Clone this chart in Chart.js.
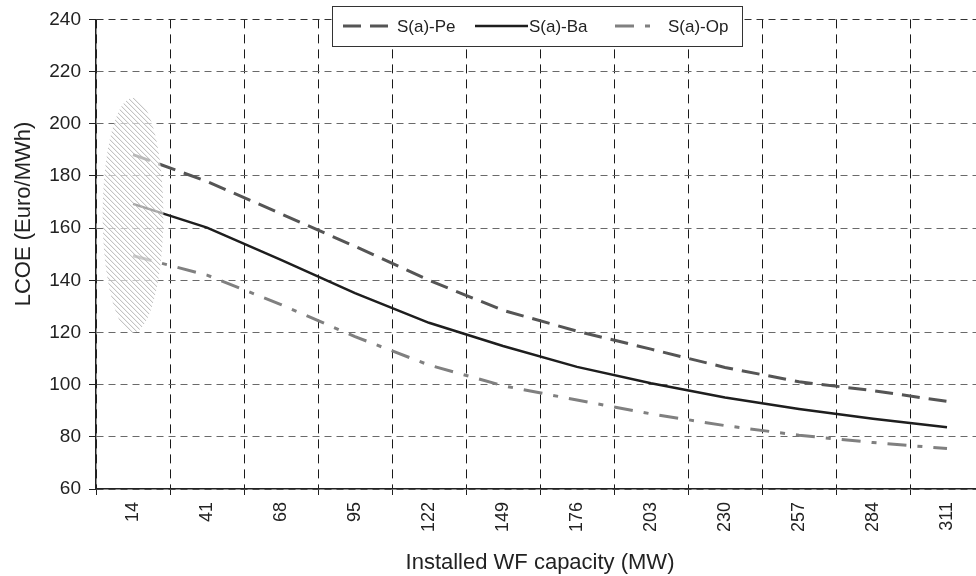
<!DOCTYPE html>
<html>
<head>
<meta charset="utf-8">
<script src="https://cdn.jsdelivr.net/npm/chart.js@4.4.0/dist/chart.umd.min.js"></script>
<style>
  html, body { margin: 0; padding: 0; background: #fff; overflow: hidden; }
  canvas { display: block; }
</style>
</head>
<body>
<canvas id="lcoeChart" width="1000" height="576"></canvas>
<script>
// installed wind farm capacity (MW)
const capacities = ['14', '41', '68', '95', '122', '149', '176', '203', '230', '257', '284', '311'];

// LCOE in Euro/MWh per scenario
const pessimistic = [188.2, 177.9, 165.5, 153.0, 140.0, 128.5, 120.5, 113.6, 106.6, 101.1, 97.7, 93.6];
const baseline    = [169.3, 160.2, 147.8, 135.1, 123.7, 114.8, 106.8, 100.5, 95.1, 90.7, 86.9, 83.7];
const optimistic  = [149.4, 142.0, 130.7, 118.4, 107.5, 99.6, 94.1, 88.8, 84.3, 80.6, 77.8, 75.5];

const seriesNames = ['S(a)-Pe', 'S(a)-Ba', 'S(a)-Op'];

// y axis ticks
const yMin = 60;
const yMax = 240;
const yStep = 20;

// hatched spread at the smallest capacity (low, high)
const spreadRange = [120, 210];

const FONT = 'Liberation Sans, Arial, Helvetica, sans-serif';
const INK = '#222';

//#####################
// Hatched ellipse
//#####################
const hatchEllipse = {
    id: 'hatchEllipse',
    afterDatasetsDraw(chart) {
        const {ctx, scales: {x, y}} = chart;
        const cx = x.getPixelForValue(0);
        const top = y.getPixelForValue(spreadRange[1]);
        const bottom = y.getPixelForValue(spreadRange[0]);
        const cy = (top + bottom) / 2;
        const ry = (bottom - top) / 2;
        const rx = (x.getPixelForValue(1) - cx) * 0.41;
        const h = bottom - top;
        ctx.save();
        ctx.beginPath();
        ctx.ellipse(cx, cy, rx, ry, 0, 0, Math.PI * 2);
        ctx.fillStyle = 'rgba(255,255,255,0.6)';
        ctx.fill();
        ctx.clip();
        ctx.strokeStyle = '#b4b4b4';
        ctx.lineWidth = 1;
        ctx.beginPath();
        for (let sx = cx - rx - h; sx < cx + rx; sx += 5) {
            ctx.moveTo(sx, top);
            ctx.lineTo(sx + h, bottom);
        }
        ctx.stroke();
        ctx.restore();
    }
};

//#####################
// Boxed legend + y title
//#####################
const boxLegend = {
    id: 'boxLegend',
    afterDraw(chart, args, opts) {
        const {ctx} = chart;
        ctx.save();
        ctx.fillStyle = '#fff';
        ctx.fillRect(opts.left, opts.top, opts.width, opts.height);
        ctx.strokeStyle = '#333';
        ctx.lineWidth = 1;
        ctx.strokeRect(opts.left + 0.5, opts.top + 0.5, opts.width, opts.height);

        const mid = opts.top + opts.height / 2;
        ctx.font = '17px ' + FONT;
        ctx.textBaseline = 'middle';
        chart.data.datasets.forEach((ds, i) => {
            const [x0, len, tx] = opts.items[i];
            ctx.strokeStyle = ds.borderColor;
            ctx.lineWidth = ds.borderWidth;
            ctx.setLineDash(ds.borderDash || []);
            ctx.beginPath();
            ctx.moveTo(x0, mid);
            ctx.lineTo(x0 + len, mid);
            ctx.stroke();
            ctx.setLineDash([]);
            ctx.fillStyle = INK;
            ctx.fillText(ds.label, tx, mid + 1);
        });

        // y axis title, placed like the original
        ctx.translate(opts.yTitleX, opts.yTitleY);
        ctx.rotate(-Math.PI / 2);
        ctx.font = '22px ' + FONT;
        ctx.textAlign = 'center';
        ctx.fillStyle = INK;
        ctx.fillText('LCOE (Euro/MWh)', 0, 0);
        ctx.restore();
    }
};

const data = {
    labels: capacities,
    datasets: [
        {
            label: seriesNames[0],
            data: pessimistic,
            borderColor: '#555555',
            borderWidth: 3,
            borderDash: [18, 9]
        },
        {
            label: seriesNames[1],
            data: baseline,
            borderColor: '#1e1e1e',
            borderWidth: 2.5
        },
        {
            label: seriesNames[2],
            data: optimistic,
            borderColor: '#808080',
            borderWidth: 3,
            borderDash: [19, 11, 5, 11]
        }
    ]
};

const chartCanvas = document.getElementById('lcoeChart');

const myChart = new Chart(chartCanvas, {
    type: 'line',
    data: data,
    plugins: [hatchEllipse, boxLegend],
    options: {
        responsive: false,
        animation: false,
        devicePixelRatio: 1,
        layout: { padding: { top: 16, right: 16, left: 0, bottom: 0 } },
        elements: {
            point: { radius: 0, hoverRadius: 0 },
            line: { tension: 0, fill: false }
        },
        plugins: {
            legend: { display: false },
            tooltip: { enabled: false },
            boxLegend: {
                left: 332, top: 6, width: 410, height: 40,
                items: [[343, 52, 397], [475, 53, 529], [615, 40, 668]],
                yTitleX: 24, yTitleY: 214
            }
        },
        scales: {
            x: {
                offset: true,
                afterFit(scale) { scale.height = 87; },
                grid: {
                    offset: true,
                    color: '#1a1a1a',
                    lineWidth: 1,
                    tickLength: 6,
                    tickColor: '#222'
                },
                border: { display: true, color: '#222', width: 1.5, dash: [9, 6] },
                ticks: {
                    autoSkip: false,
                    minRotation: 90,
                    maxRotation: 90,
                    padding: 7,
                    color: INK,
                    font: { family: FONT, size: 18 }
                },
                title: {
                    display: true,
                    text: 'Installed WF capacity (MW)',
                    color: INK,
                    padding: 0,
                    font: { family: FONT, size: 22 }
                }
            },
            y: {
                min: yMin,
                max: yMax,
                afterFit(scale) { scale.width = 96; },
                grid: {
                    color: (c) => (c.tick && c.tick.value === yMax ? '#333' : '#6a6a6a'),
                    lineWidth: 1,
                    tickLength: 7,
                    tickColor: '#222'
                },
                border: { display: true, color: '#222', width: 1.5, dash: [7, 5] },
                ticks: {
                    stepSize: yStep,
                    padding: 8,
                    color: INK,
                    font: { family: FONT, size: 19 }
                }
            }
        }
    }
});
</script>
</body>
</html>
